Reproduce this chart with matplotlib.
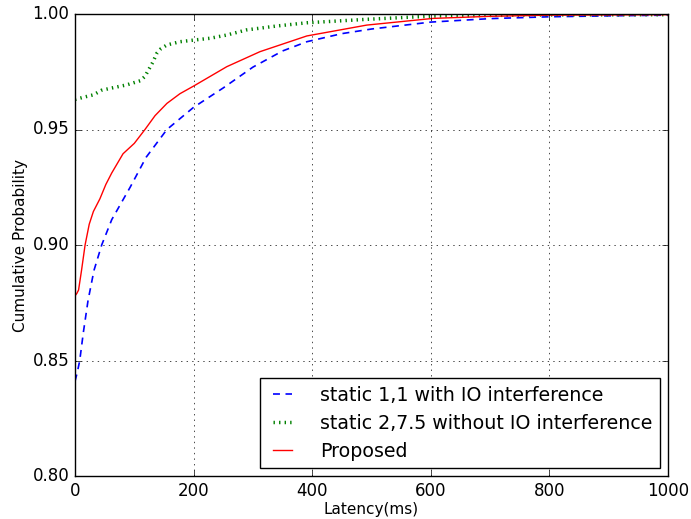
import matplotlib
matplotlib.use("Agg")
import matplotlib.pyplot as plt

plt.style.use('classic')

blue_x = [0, 4, 8, 14, 22, 32, 45, 62, 93, 120, 155, 200, 250, 300, 350, 391, 450, 500, 600, 700, 800, 900, 1000]
blue_y = [0.841, 0.845, 0.850, 0.862, 0.876, 0.889, 0.900, 0.911, 0.925, 0.938, 0.950, 0.9596,
          0.968, 0.977, 0.984, 0.988, 0.9915, 0.9935, 0.9965, 0.998, 0.9988, 0.9992, 0.9995]

green_x = [0, 15, 31, 45, 59, 87, 110, 118, 124, 131, 138, 145, 155, 177, 200, 228, 256, 289, 340, 391, 492, 604, 780, 1000]
green_y = [0.963, 0.964, 0.965, 0.967, 0.9678, 0.9693, 0.9711, 0.973, 0.9758, 0.979, 0.983, 0.985, 0.9866, 0.988,
           0.9887, 0.9895, 0.9909, 0.9931, 0.9948, 0.9962, 0.9977, 0.9991, 0.9996, 0.9997]

red_x = [0, 3, 6, 11, 17, 24, 31, 42, 52, 62, 81, 100, 118, 135, 155, 177, 200, 256, 312, 391, 492, 604, 700, 800, 1000]
red_y = [0.878, 0.879, 0.8805, 0.889, 0.900, 0.909, 0.9145, 0.920, 0.9262, 0.9312, 0.9395, 0.944, 0.950, 0.956, 0.9613,
         0.9655, 0.9688, 0.9772, 0.9837, 0.9905, 0.9952, 0.9981, 0.9990, 0.9995, 0.9997]

labels = ["static 1,1 with IO interference", "static 2,7.5 without IO interference", "Proposed"]

fig = plt.figure(figsize=(6.91, 5.19), dpi=100, facecolor='white')
ax = fig.add_axes([75/691, 1-476/519, (668-75)/691, (476-14)/519])

ax.plot(blue_x, blue_y, color='b', linestyle='--', dashes=(5, 4), linewidth=1.2, label=labels[0])
ax.plot(green_x, green_y, color='g', linestyle=':', linewidth=2.5, label=labels[1])
ax.plot(red_x, red_y, color='r', linestyle='-', linewidth=1.0, label=labels[2])

ax.set_xlim(0, 1000)
ax.set_ylim(0.80, 1.00)
ax.set_xticks([0, 200, 400, 600, 800, 1000])
ax.set_yticks([0.80, 0.85, 0.90, 0.95, 1.00])
ax.set_yticklabels(["0.80", "0.85", "0.90", "0.95", "1.00"])
ax.grid(True, color='black', linestyle=':', linewidth=0.5)
ax.set_xlabel("Latency(ms)", fontsize=11, labelpad=1.5)
ax.set_ylabel("Cumulative Probability", fontsize=11, labelpad=3)
ax.tick_params(labelsize=12)
ax.legend(loc='lower right', fontsize=13.7, frameon=True, labelspacing=0.47,
          handlelength=1.6, handletextpad=1.2, borderaxespad=0.4)

fig.savefig("out.png", dpi=100, facecolor='white')
